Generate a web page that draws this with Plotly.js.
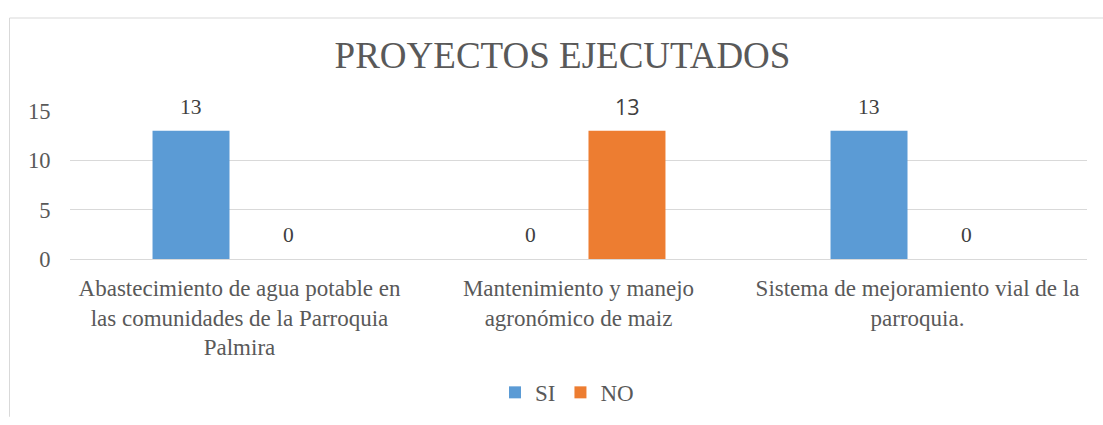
<!DOCTYPE html>
<html>
<head>
<meta charset="utf-8">
<script src="https://cdn.plot.ly/plotly-3.0.1.min.js"></script>
<style>
html,body{margin:0;padding:0;background:#fff;overflow:hidden;}
#chart{width:1103px;height:425px;}
</style>
</head>
<body>
<div id="chart"></div>
<script>
const categories = [
  "Abastecimiento de agua potable en<br>las comunidades de la Parroquia<br>Palmira",
  "Mantenimiento y manejo<br>agronómico de maiz",
  "Sistema de mejoramiento vial de la<br>parroquia."
];
const seriesNames = ["SI", "NO"];
const siValues = [13, 0, 13];
const noValues = [0, 13, 0];
const colors = ["#5B9BD5", "#ED7D31"];

const serif = "Liberation Serif, Times New Roman, serif";
const sans = "Open Sans, Liberation Sans, sans-serif";
const grey = "#595959";

const traces = [
  {type: "bar", name: seriesNames[0], x: categories, y: siValues,
   marker: {color: colors[0]}, hoverinfo: "skip"},
  {type: "bar", name: seriesNames[1], x: categories, y: noValues,
   marker: {color: colors[1]}, hoverinfo: "skip"}
];

const annotations = [];
[siValues, noValues].forEach((vals, s) => {
  vals.forEach((v, i) => {
    annotations.push({
      x: categories[i], y: v, xref: "x", yref: "y",
      text: String(v), showarrow: false,
      xshift: s === 0 ? -48.5 : 48.5, yshift: 24,
      yanchor: "middle", xanchor: "center",
      font: {family: (s === 1 && v > 0) ? sans : serif, size: 21.5, color: "#404040"}
    });
  });
});

const W = 1017, H = 152, L = 70, T = 111;
const px = v => (v - L) / W;
const py = v => (T + H - v) / H;

const layout = {
  width: 1103, height: 425,
  margin: {l: L, r: 1103 - L - W, t: T, b: 425 - T - H, pad: 0},
  paper_bgcolor: "#ffffff", plot_bgcolor: "#ffffff",
  title: {text: "PROYECTOS EJECUTADOS", x: 562.5 / 1103, xanchor: "center", xref: "container",
          y: 1 - 55 / 425, yref: "container", yanchor: "middle",
          font: {family: serif, size: 37, color: grey}},
  barmode: "group", bargap: 0.428, bargroupgap: 0.206,
  xaxis: {type: "category", showgrid: false, zeroline: false, showline: false,
          ticks: "outside", ticklen: 8, tickcolor: "rgba(0,0,0,0)",
          tickfont: {family: serif, size: 23, color: grey}, fixedrange: true},
  yaxis: {range: [0, 15], dtick: 5, tick0: 0, showgrid: true, gridcolor: "#d9d9d9", gridwidth: 1,
          zeroline: true, zerolinecolor: "#d9d9d9", zerolinewidth: 1, showline: false,
          ticks: "outside", ticklen: 14, tickcolor: "rgba(0,0,0,0)",
          tickfont: {family: serif, size: 22.5, color: grey}, fixedrange: true},
  legend: {orientation: "h", x: px(567), xanchor: "center", y: py(400), yanchor: "middle",
           font: {family: serif, size: 23, color: grey}, traceorder: "normal",
           itemwidth: 30},
  showlegend: true,
  annotations: annotations,
  shapes: [
    {type: "line", xref: "paper", yref: "paper", x0: px(9.5), x1: px(1103), y0: py(15.5), y1: py(15.5),
     line: {color: "#d9d9d9", width: 1}},
    {type: "line", xref: "paper", yref: "paper", x0: px(9.5), x1: px(9.5), y0: py(15.5), y1: py(425),
     line: {color: "#d9d9d9", width: 1}}
  ]
};

Plotly.newPlot("chart", traces, layout, {displayModeBar: false, staticPlot: true});
</script>
</body>
</html>
